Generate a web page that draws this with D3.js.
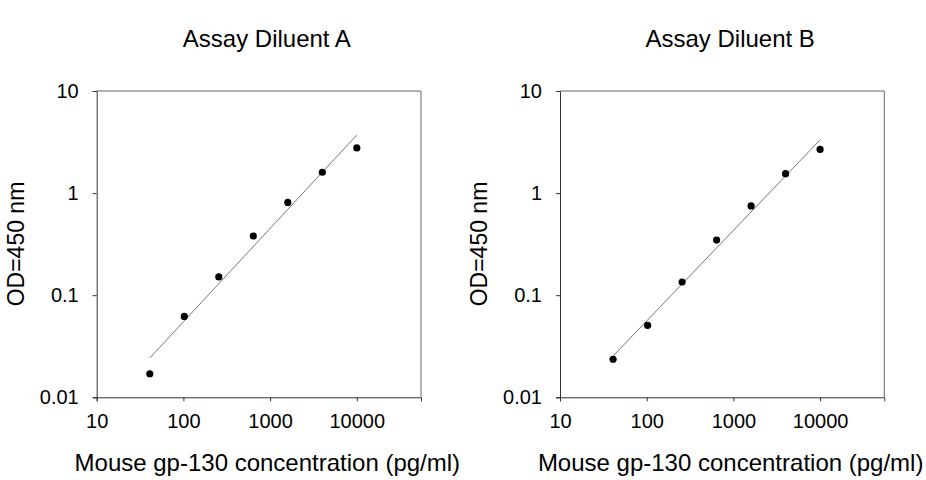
<!DOCTYPE html>
<html>
<head>
<meta charset="utf-8">
<script src="https://cdn.jsdelivr.net/npm/d3@7"></script>
<style>
  body { margin: 0; background: #fff; }
  svg { display: block; font-family: "Liberation Sans", Arial, sans-serif; }
  .tick text { fill: #000; font-size: 20px; }
</style>
</head>
<body>
<svg id="chart" width="926" height="480"></svg>
<script>
// data
var concentrations = [40.96, 102.4, 256, 640, 1600, 4000, 10000];
var odDiluentA = [0.017, 0.062, 0.151, 0.38, 0.81, 1.60, 2.77];
var odDiluentB = [0.0236, 0.0507, 0.1346, 0.347, 0.748, 1.55, 2.68];
var titles = ["Assay Diluent A", "Assay Diluent B"];
var xTicks = [10, 100, 1000, 10000];
var yTicks = [0.01, 0.1, 1, 10];

var svg = d3.select("#chart");

// straight fit in log-log space
function fitLine(xs, ys) {
  var lx = xs.map(Math.log10), ly = ys.map(Math.log10);
  var mx = d3.mean(lx), my = d3.mean(ly);
  var sxy = d3.sum(lx, function(d, i) { return (d - mx) * (ly[i] - my); });
  var sxx = d3.sum(lx, function(d) { return (d - mx) * (d - mx); });
  var b = sxy / sxx, a = my - b * mx;
  return function(x) { return Math.pow(10, a + b * Math.log10(x)); };
}

function panel(left, title, values) {
  var right = left + 324.3;
  var top = 91, bottom = 397.3;

  var x = d3.scaleLog().domain([10, 55000]).range([left, right]);
  var y = d3.scaleLog().domain([0.01, 10]).range([bottom, top]);

  var g = svg.append("g");

  // frame top / right
  g.append("path")
    .attr("d", "M" + left + "," + top + "H" + right + "V" + bottom)
    .attr("fill", "none")
    .attr("stroke", "#666")
    .attr("stroke-width", 1);

  var xAxis = g.append("g")
    .attr("transform", "translate(0," + bottom + ")")
    .call(d3.axisBottom(x).tickValues(xTicks).tickFormat(d3.format("d")).tickSize(4).tickPadding(13));

  var yAxis = g.append("g")
    .attr("transform", "translate(" + left + ",0)")
    .call(d3.axisLeft(y).tickValues(yTicks).tickFormat(function(d) { return String(d); }).tickSize(4).tickPadding(14));

  [xAxis, yAxis].forEach(function(a) {
    a.selectAll(".domain").attr("stroke", "#333");
    a.selectAll(".tick line").attr("stroke", "#333");
    a.attr("font-family", null).attr("font-size", null);
  });

  // fit line
  var f = fitLine(concentrations, values);
  var ends = [concentrations[0], concentrations[concentrations.length - 1]];
  g.append("path")
    .datum(ends)
    .attr("d", d3.line().x(function(d) { return x(d); }).y(function(d) { return y(f(d)); }))
    .attr("fill", "none")
    .attr("stroke", "#777")
    .attr("stroke-width", 1);

  // points
  g.selectAll("circle")
    .data(values)
    .enter()
    .append("circle")
    .attr("cx", function(d, i) { return x(concentrations[i]); })
    .attr("cy", function(d) { return y(d); })
    .attr("r", 3.6)
    .attr("fill", "#000");

  var mid = (left + right) / 2 + 8;

  g.append("text")
    .attr("x", mid)
    .attr("y", 47)
    .attr("text-anchor", "middle")
    .attr("font-size", 24)
    .text(title);

  g.append("text")
    .attr("x", mid + 0.5)
    .attr("y", 471)
    .attr("text-anchor", "middle")
    .attr("font-size", 24)
    .text("Mouse gp-130 concentration (pg/ml)");

  g.append("text")
    .attr("transform", "translate(" + (left - 73) + ",244) rotate(-90)")
    .attr("text-anchor", "middle")
    .attr("font-size", 23)
    .text("OD=450 nm");
}

panel(96.7, titles[0], odDiluentA);
panel(560, titles[1], odDiluentB);
</script>
</body>
</html>
